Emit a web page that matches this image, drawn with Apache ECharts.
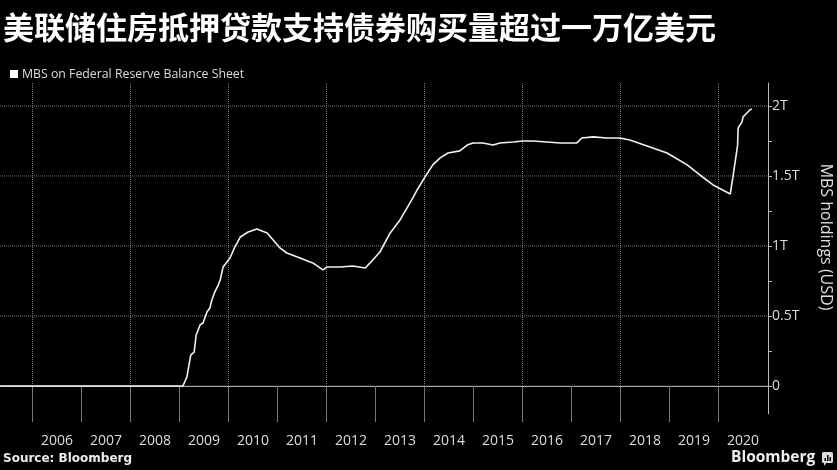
<!DOCTYPE html>
<html>
<head>
<meta charset="utf-8">
<script src="https://cdn.jsdelivr.net/npm/echarts@6/dist/echarts.min.js"></script>
<style>
html,body{margin:0;padding:0;background:#000;}
#chart{width:837px;height:470px;}
</style>
</head>
<body>
<div id="chart"></div>
<script>
// Time in fractional years, MBS holdings in trillions USD
const dates = [2005.34, 2009.07, 2009.11, 2009.15, 2009.23, 2009.30, 2009.34, 2009.42, 2009.48, 2009.56,
  2009.62, 2009.66, 2009.72, 2009.79, 2009.83, 2009.89, 2010.03, 2010.13, 2010.24, 2010.40,
  2010.58, 2010.79, 2011.05, 2011.19, 2011.46, 2011.72, 2011.93, 2012.01, 2012.28, 2012.54,
  2012.79, 2012.89, 2013.09, 2013.30, 2013.50, 2013.74, 2013.85, 2014.01, 2014.17, 2014.32,
  2014.48, 2014.72, 2014.87, 2014.99, 2015.19, 2015.40, 2015.54, 2015.81, 2016.01, 2016.21,
  2016.50, 2016.77, 2017.11, 2017.21, 2017.44, 2017.72, 2017.99, 2018.19, 2018.60, 2018.95,
  2019.36, 2019.62, 2019.89, 2020.24, 2020.30, 2020.34, 2020.38, 2020.39, 2020.40, 2020.44,
  2020.48, 2020.50, 2020.54, 2020.58, 2020.60, 2020.64, 2020.68];
const mbsHoldings = [0, 0, 0, 0.064, 0.221, 0.243, 0.364, 0.436, 0.45, 0.529,
  0.557, 0.614, 0.671, 0.721, 0.757, 0.85, 0.914, 0.993, 1.064, 1.10,
  1.121, 1.093, 0.986, 0.95, 0.914, 0.879, 0.829, 0.85, 0.85, 0.857,
  0.843, 0.879, 0.957, 1.093, 1.186, 1.329, 1.40, 1.493, 1.579, 1.629,
  1.664, 1.679, 1.721, 1.736, 1.736, 1.721, 1.736, 1.743, 1.75, 1.75,
  1.743, 1.736, 1.736, 1.771, 1.779, 1.771, 1.771, 1.757, 1.707, 1.664,
  1.579, 1.507, 1.436, 1.371, 1.507, 1.60, 1.614, 1.721, 1.843, 1.843,
  1.886, 1.921, 1.914, 1.95, 1.936, 1.971, 1.979];
const yearLabels = [2006, 2007, 2008, 2009, 2010, 2011, 2012, 2013, 2014, 2015, 2016, 2017, 2018, 2019, 2020];
const yearGrid = [2006, 2008, 2010, 2012, 2014, 2016, 2018, 2020];
const yTicks = [0, 0.25, 0.5, 0.75, 1, 1.25, 1.5, 1.75, 2];
const yLabels = [0, 0.5, 1, 1.5, 2];
const seriesName = 'MBS on Federal Reserve Balance Sheet';
const titleText = '美联储住房抵押贷款支持债券购买量超过一万亿美元';
const yAxisTitle = 'MBS holdings (USD)';

const X_MIN = 2005.337, X_MAX = 2021.01, Y_MIN = -0.2, Y_MAX = 2.164;
const latin = '"Open Sans", "DejaVu Sans", sans-serif';

// gridline segments built from the tick arrays (null breaks the line)
const vGrid = [];
yearGrid.forEach(v => { vGrid.push([v, Y_MIN], [v, Y_MAX], [v, null]); });
const hGrid = [];
yLabels.forEach(v => { hGrid.push([X_MIN, v], [X_MAX, v], [X_MAX, null]); });
const gridLineStyle = {color: '#777', type: 'dotted', width: 1};

const chart = echarts.init(document.getElementById('chart'));
chart.setOption({
  backgroundColor: '#000',
  animation: false,
  title: {
    text: titleText, left: -2, top: 7,
    textStyle: {color: '#fff', fontSize: 31, fontWeight: 'bold', fontFamily: '"Noto Sans CJK SC", sans-serif'}
  },
  legend: {
    left: 5, top: 63, icon: 'rect', itemWidth: 8, itemHeight: 8, itemGap: 10,
    textStyle: {color: '#ddd', fontSize: 12.3, fontFamily: latin, padding: [0, 0, 0, -1]},
    data: [seriesName]
  },
  grid: {left: 0, right: 69, top: 83, bottom: 56},
  xAxis: {
    type: 'value', min: X_MIN, max: X_MAX,
    axisLine: {show: true, lineStyle: {color: '#bbb', width: 1}},
    axisTick: {show: true, customValues: yearLabels, length: 36, lineStyle: {color: '#777'}},
    axisLabel: {
      show: true, customValues: yearLabels.map(y => y + 0.5),
      formatter: v => String(Math.floor(v)),
      color: '#ddd', fontSize: 14, fontFamily: latin, margin: 20
    },
    splitLine: {show: false}
  },
  yAxis: {
    type: 'value', position: 'right', min: Y_MIN, max: Y_MAX,
    axisLine: {show: true, lineStyle: {color: '#bbb', width: 1}},
    axisTick: {show: true, customValues: yTicks, length: 4, lineStyle: {color: '#bbb'}},
    axisLabel: {
      show: true, customValues: yLabels,
      formatter: v => v === 0 ? '0' : v + 'T',
      color: '#ddd', fontSize: 14, fontFamily: latin, margin: 4
    },
    splitLine: {show: false}
  },
  series: [{
    name: 'vgrid', type: 'line', data: vGrid, z: 1, silent: true,
    showSymbol: false, symbol: 'none', connectNulls: false,
    lineStyle: gridLineStyle
  }, {
    name: 'hgrid', type: 'line', data: hGrid, z: 1, silent: true,
    showSymbol: false, symbol: 'none', connectNulls: false,
    lineStyle: gridLineStyle
  }, {
    name: seriesName, type: 'line',
    data: dates.map((d, i) => [d, mbsHoldings[i]]),
    showSymbol: false, symbol: 'none',
    itemStyle: {color: '#fff'},
    lineStyle: {color: '#f2f2f2', width: 1.6},
    z: 5
  }],
  graphic: [{
    type: 'text', x: 826, y: 237, rotation: -Math.PI / 2,
    style: {text: yAxisTitle, fill: '#e0e0e0', font: '16px ' + latin, align: 'center', verticalAlign: 'middle'}
  }, {
    type: 'text', left: 3, top: 453,
    style: {text: 'Source: Bloomberg', fill: '#eee', font: 'bold 12px "DejaVu Sans", sans-serif'}
  }, {
    type: 'text', left: 731, top: 450,
    style: {text: 'Bloomberg', fill: '#eee', font: 'bold 15.5px ' + latin}
  }, {
    type: 'group', left: 822, top: 452,
    children: [
      {type: 'rect', shape: {x: 0, y: 0, width: 11, height: 11, r: 1.5}, style: {fill: '#ddd'}},
      {type: 'polygon', shape: {points: [[2, 10], [5, 10], [2, 14]]}, style: {fill: '#ddd'}},
      {type: 'rect', shape: {x: 2.5, y: 6, width: 1.5, height: 3}, style: {fill: '#000'}},
      {type: 'rect', shape: {x: 5, y: 3, width: 1.5, height: 6}, style: {fill: '#000'}},
      {type: 'rect', shape: {x: 7.5, y: 5, width: 1.5, height: 4}, style: {fill: '#000'}}
    ]
  }]
});
</script>
</body>
</html>
